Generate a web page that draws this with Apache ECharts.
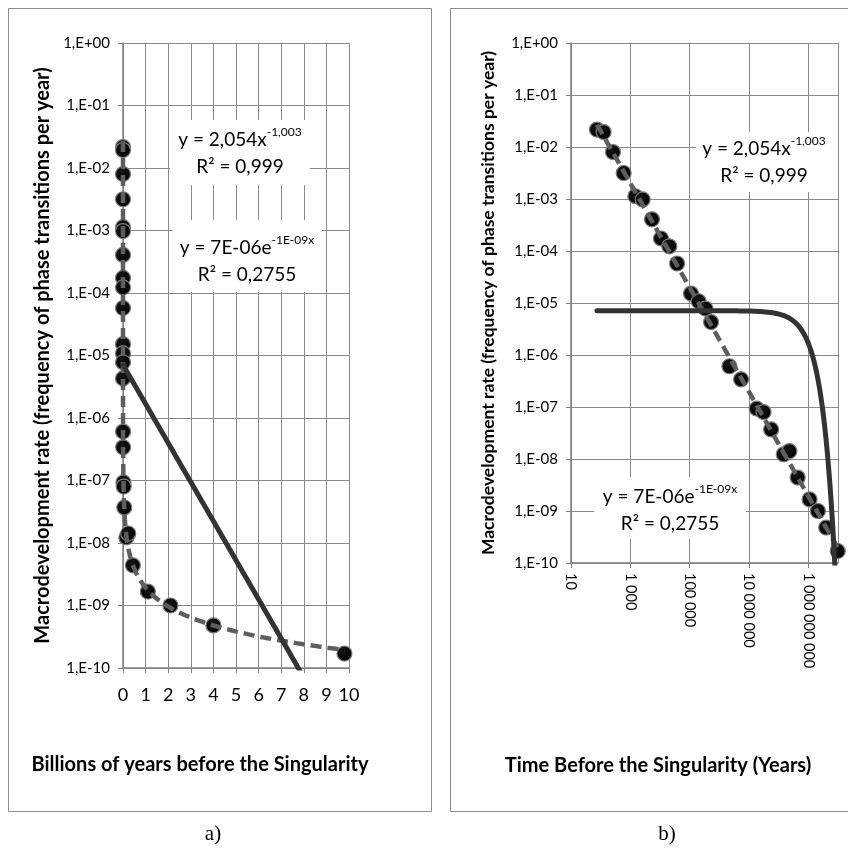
<!DOCTYPE html>
<html>
<head>
<meta charset="utf-8">
<script src="https://cdn.jsdelivr.net/npm/echarts@6/dist/echarts.min.js"></script>
<style>
  html, body { margin: 0; padding: 0; background: #fff; }
  #chart { width: 848px; height: 848px; }
</style>
</head>
<body>
<div id="chart"></div>
<script>
// Time before the Singularity (years) of each phase transition
const yearsBefore = [75, 126, 260, 596, 1480, 2600, 5370, 10800, 20600, 37600,
  111000, 200000, 340000, 525000, 2.19e6, 5.4e6, 1.82e7, 3.1e7, 5.56e7, 1.48e8,
  2.3e8, 4.37e8, 1.1e9, 2.1e9, 4.0e9, 9.8e9];
// Macrodevelopment rate (phase transitions per year)
const rate = [0.0216, 0.0194, 0.0080, 0.00316, 0.00113, 0.00098, 4.07e-4, 1.74e-4, 1.23e-4, 5.75e-5,
  1.52e-5, 1.08e-5, 7.8e-6, 4.3e-6, 6.07e-7, 3.4e-7, 9.3e-8, 8.0e-8, 3.7e-8, 1.23e-8,
  1.42e-8, 4.4e-9, 1.67e-9, 1.0e-9, 4.8e-10, 1.7e-10];

// Fitted trend coefficients (years as x)
const powerFit = { a: 2.054, b: -1.003 };     // y = a * x^b
const expFit = { a: 7.1e-6, b: -1.44e-9 };    // y = a * e^(b x)

// Axis ranges
const billionsRange = [0, 10];                 // x range of panel a (billions of years)
const rateRange = [1e-10, 1];                  // y range of both panels
const yearsRange = [10, 1e10];                 // x range of panel b (years)

const FONT = "Lato, 'Open Sans', sans-serif";
const GRID_COLOR = '#8a8a8a';
const AXIS_COLOR = '#808080';

// Sample trend curves over the data range
function sampleX(lo, hi) {
  const xs = [];
  const n = 300;
  const l0 = Math.log10(lo), l1 = Math.log10(hi);
  for (let i = 0; i <= n; i++) xs.push(Math.pow(10, l0 + (l1 - l0) * i / n));
  for (let i = 0; i <= n; i++) xs.push(lo + (hi - lo) * i / n);
  xs.sort((p, q) => p - q);
  return xs;
}
const xMin = Math.min(...yearsBefore), xMax = Math.max(...yearsBefore);
const trendX = sampleX(xMin, xMax);
const powerY = x => powerFit.a * Math.pow(x, powerFit.b);
const expY = x => expFit.a * Math.exp(expFit.b * x);

const pointsYears = yearsBefore.map((t, i) => [t, rate[i]]);
const pointsBillions = yearsBefore.map((t, i) => [t / 1e9, rate[i]]);
const powerYears = trendX.map(x => [x, powerY(x)]);
const expYears = trendX.map(x => [x, expY(x)]);
const powerBillions = trendX.map(x => [x / 1e9, powerY(x)]);
const expBillions = trendX.map(x => [x / 1e9, expY(x)]);

function expLabel(v) {
  const e = Math.round(Math.log10(v));
  return '1,E' + (e < 0 ? '-' : '+') + String(Math.abs(e)).padStart(2, '0');
}
function spacedNumber(v) {
  return Math.round(v).toString().replace(/\B(?=(\d{3})+(?!\d))/g, ' ');
}

const yTitle = 'Macrodevelopment rate (frequency of phase transitions per year)';

function logYAxis(gridIndex, titleSize, gap) {
  return {
    gridIndex, type: 'log', logBase: 10, min: rateRange[0], max: rateRange[1],
    interval: 1, splitNumber: 10,
    name: yTitle, nameLocation: 'middle', nameRotate: 90, nameGap: gap,
    nameTextStyle: { fontFamily: FONT, fontWeight: 'bold', fontSize: titleSize, color: '#000' },
    axisLine: { show: true, lineStyle: { color: AXIS_COLOR, width: 1.5 } },
    axisTick: { show: true, length: 5, lineStyle: { color: AXIS_COLOR } },
    axisLabel: { formatter: expLabel, fontFamily: FONT, fontSize: 15, color: '#000', margin: 13 },
    splitLine: { show: true, lineStyle: { color: GRID_COLOR, width: 1 } },
    minorTick: { show: false }, minorSplitLine: { show: false }
  };
}

const markerStyle = {
  color: {
    type: 'radial', x: 0.4, y: 0.35, r: 0.75,
    colorStops: [{ offset: 0, color: '#151515' }, { offset: 1, color: '#000' }]
  },
  opacity: 1,
  borderColor: '#7c7c7c', borderWidth: 1.2
};
const powerLine = { color: '#5e5e5e', width: 4.5, type: [11, 6], cap: 'butt' };
const expLine = { color: '#333333', width: 5, cap: 'round' };

function eqBox(box, cx, cy, main, sup, r2) {
  return [
    { type: 'rect', z: 50, shape: box, style: { fill: '#fff' } },
    {
      type: 'text', z: 51, x: cx, y: cy,
      style: {
        text: '{m|' + main + '}{s|' + sup + '}\n{m|' + r2 + '}',
        align: 'center', verticalAlign: 'middle',
        rich: {
          m: { fontFamily: FONT, fontSize: 19, lineHeight: 27, color: '#000', align: 'center' },
          s: { fontFamily: FONT, fontSize: 12, lineHeight: 27, color: '#000', align: 'center', verticalAlign: 'top' }
        }
      }
    }
  ];
}

const option = {
  animation: false,
  backgroundColor: '#fff',
  grid: [
    { left: 123, top: 43, width: 226, height: 625 },
    { left: 571, top: 43, width: 267, height: 520 }
  ],
  xAxis: [
    {
      gridIndex: 0, type: 'value', min: billionsRange[0], max: billionsRange[1], interval: 1,
      axisLine: { show: true, onZero: false, lineStyle: { color: AXIS_COLOR, width: 1.5 } },
      axisTick: { show: true, length: 5, lineStyle: { color: AXIS_COLOR } },
      axisLabel: { fontFamily: FONT, fontSize: 18, color: '#000', margin: 18 },
      splitLine: { show: true, lineStyle: { color: GRID_COLOR, width: 1 } }
    },
    {
      gridIndex: 1, type: 'log', logBase: 10, min: yearsRange[0], max: yearsRange[1], interval: 2,
      axisLine: { show: true, onZero: false, lineStyle: { color: AXIS_COLOR, width: 1.5 } },
      axisTick: { show: true, length: 5, lineStyle: { color: AXIS_COLOR } },
      axisLabel: { formatter: spacedNumber, rotate: -90, fontFamily: FONT, fontSize: 14.5, color: '#000', margin: 10, showMaxLabel: false },
      splitLine: { show: true, lineStyle: { color: GRID_COLOR, width: 1 } },
      minorTick: { show: false }, minorSplitLine: { show: false }
    }
  ],
  yAxis: [logYAxis(0, 20, 70), logYAxis(1, 17.5, 74)],
  series: [
    { type: 'scatter', xAxisIndex: 0, yAxisIndex: 0, data: pointsBillions, symbolSize: 15, itemStyle: markerStyle, z: 3 },
    { type: 'line', xAxisIndex: 0, yAxisIndex: 0, data: powerBillions, showSymbol: false, lineStyle: powerLine, clip: true, z: 4 },
    { type: 'line', xAxisIndex: 0, yAxisIndex: 0, data: expBillions, showSymbol: false, lineStyle: expLine, clip: true, z: 5 },
    { type: 'scatter', xAxisIndex: 1, yAxisIndex: 1, data: pointsYears, symbolSize: 15, itemStyle: markerStyle, z: 3 },
    { type: 'line', xAxisIndex: 1, yAxisIndex: 1, data: powerYears, showSymbol: false, lineStyle: powerLine, clip: true, z: 4 },
    { type: 'line', xAxisIndex: 1, yAxisIndex: 1, data: expYears, showSymbol: false, lineStyle: expLine, clip: true, z: 5 }
  ],
  graphic: [
    { type: 'rect', z: 0, silent: true, shape: { x: 8.5, y: 8.5, width: 423, height: 803 }, style: { fill: 'none', stroke: '#8c8c8c', lineWidth: 1 } },
    { type: 'rect', z: 0, silent: true, shape: { x: 450.5, y: 8.5, width: 430, height: 803 }, style: { fill: 'none', stroke: '#8c8c8c', lineWidth: 1 } },
    { type: 'text', z: 60, x: 200, y: 765, style: { text: 'Billions of years before the Singularity', fontFamily: FONT, fontWeight: 'bold', fontSize: 20, fill: '#000', align: 'center', verticalAlign: 'middle' } },
    { type: 'text', z: 60, x: 658, y: 766, style: { text: 'Time Before the Singularity (Years)', fontFamily: FONT, fontWeight: 'bold', fontSize: 20, fill: '#000', align: 'center', verticalAlign: 'middle' } },
    { type: 'text', z: 60, x: 213, y: 834, style: { text: 'a)', fontFamily: "'Liberation Serif', serif", fontSize: 21, fill: '#000', align: 'center', verticalAlign: 'middle' } },
    { type: 'text', z: 60, x: 667, y: 834, style: { text: 'b)', fontFamily: "'Liberation Serif', serif", fontSize: 21, fill: '#000', align: 'center', verticalAlign: 'middle' } },
    ...eqBox({ x: 170, y: 120, width: 140, height: 65 }, 240, 153.5, 'y = 2,054x', '-1,003', 'R² = 0,999'),
    ...eqBox({ x: 172, y: 220, width: 150, height: 72 }, 247, 261.5, 'y = 7E-06e', '-1E-09x', 'R² = 0,2755'),
    ...eqBox({ x: 696, y: 132, width: 142, height: 60 }, 764, 162, 'y = 2,054x', '-1,003', 'R² = 0,999'),
    ...eqBox({ x: 594, y: 477, width: 152, height: 62 }, 670, 510, 'y = 7E-06e', '-1E-09x', 'R² = 0,2755')
  ]
};

const chart = echarts.init(document.getElementById('chart'), null, { renderer: 'canvas' });
chart.setOption(option);
</script>
</body>
</html>
